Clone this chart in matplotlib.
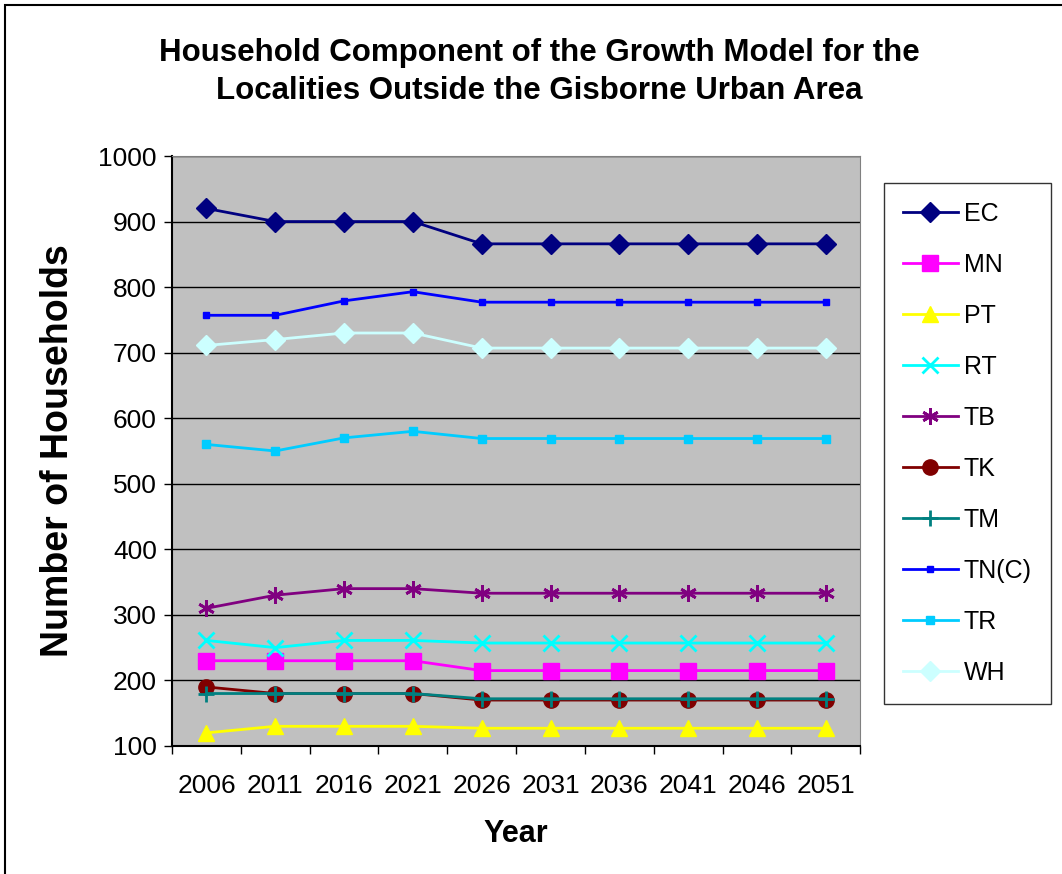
import matplotlib
matplotlib.use('Agg')
import matplotlib.pyplot as plt
from matplotlib.patches import Rectangle

plt.rcParams['font.family'] = ['Liberation Sans', 'DejaVu Sans']

years = ['2006', '2011', '2016', '2021', '2026', '2031', '2036', '2041', '2046', '2051']

ec = [920, 900, 900, 900, 866, 866, 866, 866, 866, 866]
mn = [230, 230, 230, 230, 215, 215, 215, 215, 215, 215]
pt = [120, 130, 130, 130, 127, 127, 127, 127, 127, 127]
rt = [261, 250, 261, 261, 257, 257, 257, 257, 257, 257]
tb = [310, 330, 340, 340, 333, 333, 333, 333, 333, 333]
tk = [190, 180, 180, 180, 170, 170, 170, 170, 170, 170]
tm = [180, 180, 180, 180, 172, 172, 172, 172, 172, 172]
tn_c = [757, 757, 779, 793, 777, 777, 777, 777, 777, 777]
tr = [560, 550, 570, 580, 569, 569, 569, 569, 569, 569]
wh = [711, 720, 730, 730, 707, 707, 707, 707, 707, 707]

# (label, values, colour, marker, marker size)
series = [
    ('EC', ec, '#000080', 'D', 10),
    ('MN', mn, '#FF00FF', 's', 11),
    ('PT', pt, '#FFFF00', '^', 12),
    ('RT', rt, '#00FFFF', 'x', 11),
    ('TB', tb, '#800080', (6, 2, 0), 12),
    ('TK', tk, '#800000', 'o', 11),
    ('TM', tm, '#008080', '+', 12),
    ('TN(C)', tn_c, '#0000FF', 's', 5),
    ('TR', tr, '#00CCFF', 's', 6),
    ('WH', wh, '#CCFFFF', 'D', 10),
]

fig = plt.figure(figsize=(10.62, 8.74), dpi=100)
ax = fig.add_axes([0.162, 0.1465, 0.648, 0.675])
ax.set_facecolor('#C0C0C0')

x = list(range(len(years)))
for label, vals, color, marker, ms in series:
    ax.plot(x, vals, color=color, marker=marker, markersize=ms,
            markeredgewidth=2 if marker in ('x', '+', (6, 2, 0)) else 1,
            linewidth=2, label=label)

ax.set_ylim(100, 1000)
ax.set_xlim(-0.5, len(years) - 0.5)
ax.set_yticks(range(100, 1001, 100))
ax.yaxis.grid(True, color='black', linewidth=1)
ax.set_axisbelow(True)

ax.set_xticks(x)
ax.set_xticklabels(years)
ax.set_xticks([i - 0.5 for i in range(len(years) + 1)], minor=True)
ax.tick_params(axis='x', which='major', length=0, pad=20, labelsize=19)
ax.tick_params(axis='x', which='minor', length=6, width=1, direction='out')
ax.tick_params(axis='y', length=6, width=1, direction='out', labelsize=19, pad=5)

for side in ('top', 'right'):
    ax.spines[side].set_color('#808080')
for side in ('left', 'bottom'):
    ax.spines[side].set_color('black')
    ax.spines[side].set_linewidth(1.5)

ax.set_xlabel('Year', fontsize=22, fontweight='bold', labelpad=15)
ax.set_ylabel('Number of Households', fontsize=27, fontweight='bold', labelpad=16)

fig.text(0.508, 0.918, 'Household Component of the Growth Model for the\nLocalities Outside the Gisborne Urban Area',
         ha='center', va='center', fontsize=22.5, fontweight='bold', linespacing=1.35)

leg = fig.legend(loc='upper left', bbox_to_anchor=(884 / 1062, 1 - 183 / 874),
                 borderaxespad=0, frameon=True, fancybox=False, edgecolor='black',
                 fontsize=18, labelspacing=1.08, handlelength=2.2, borderpad=0.75,
                 handletextpad=0.25)
leg.get_frame().set_linewidth(1)

# outer chart border
fig.patches.append(Rectangle((5 / 1062, -0.1), 1.2, 1.1 - 5 / 874, transform=fig.transFigure,
                             fill=False, edgecolor='black', linewidth=1.5))

fig.savefig('out.png', dpi=100)
